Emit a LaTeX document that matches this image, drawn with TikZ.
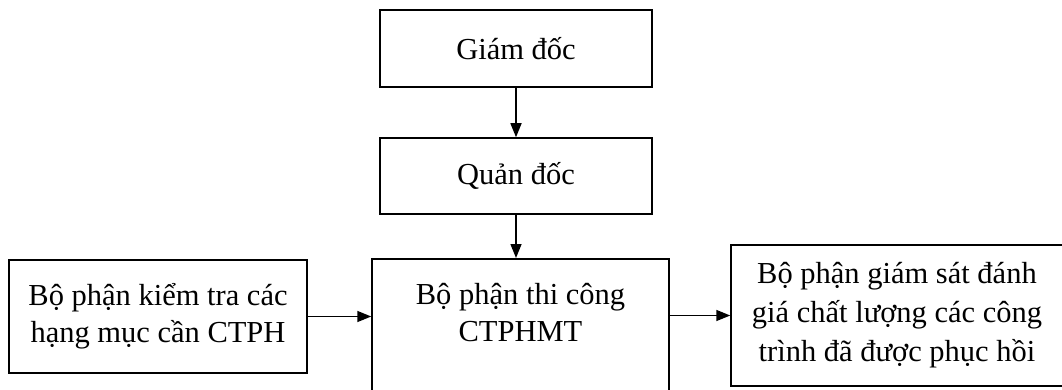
\documentclass[tikz,border=0pt]{standalone}
\usepackage{fontspec}
\setmainfont{Liberation Serif}
\usetikzlibrary{arrows.meta}

\begin{document}
\begin{tikzpicture}[x=1pt,y=-1pt,
	box/.style={draw,line width=1.5pt,align=center,font=\fontsize{30.5}{37}\selectfont},
	arr/.style={line width=1.5pt,-{Triangle[length=14pt,width=11pt]}}]
	
	\useasboundingbox (0,0) rectangle (1062,390);
	\clip (0,0) rectangle (1062,390);
	
	\node[box,minimum width=272pt,minimum height=77pt] (gd) at (516,48.5) {Giám đốc};
	
	\node[box,minimum width=272pt,minimum height=76pt] (qd) at (516,176) {Quản đốc};
	
	\node[box,anchor=north,minimum width=297pt,inner ysep=25pt,text depth=150pt] (tc) at (520.5,258) {Bộ phận thi công\\CTPHMT};
	
	\node[box,minimum width=298pt,minimum height=113pt] (kt) at (158,316.5) {Bộ phận kiểm tra các\\hạng mục cần CTPH};
	
	\node[box,minimum width=332pt,minimum height=141pt,font=\fontsize{30.5}{39}\selectfont] (gs) at (897,315.5) {Bộ phận giám sát đánh\\giá chất lượng các công\\trình đã được phục hồi};
	
	\draw[arr] (gd.south) -- (gd.south |- qd.north);
	\draw[arr] (qd.south) -- (qd.south |- tc.north);
	\draw[arr] (kt.east) -- (kt.east -| tc.west);
	\draw[arr] (tc.east |- gs.west) -- (gs.west);
	
\end{tikzpicture}
\end{document}
